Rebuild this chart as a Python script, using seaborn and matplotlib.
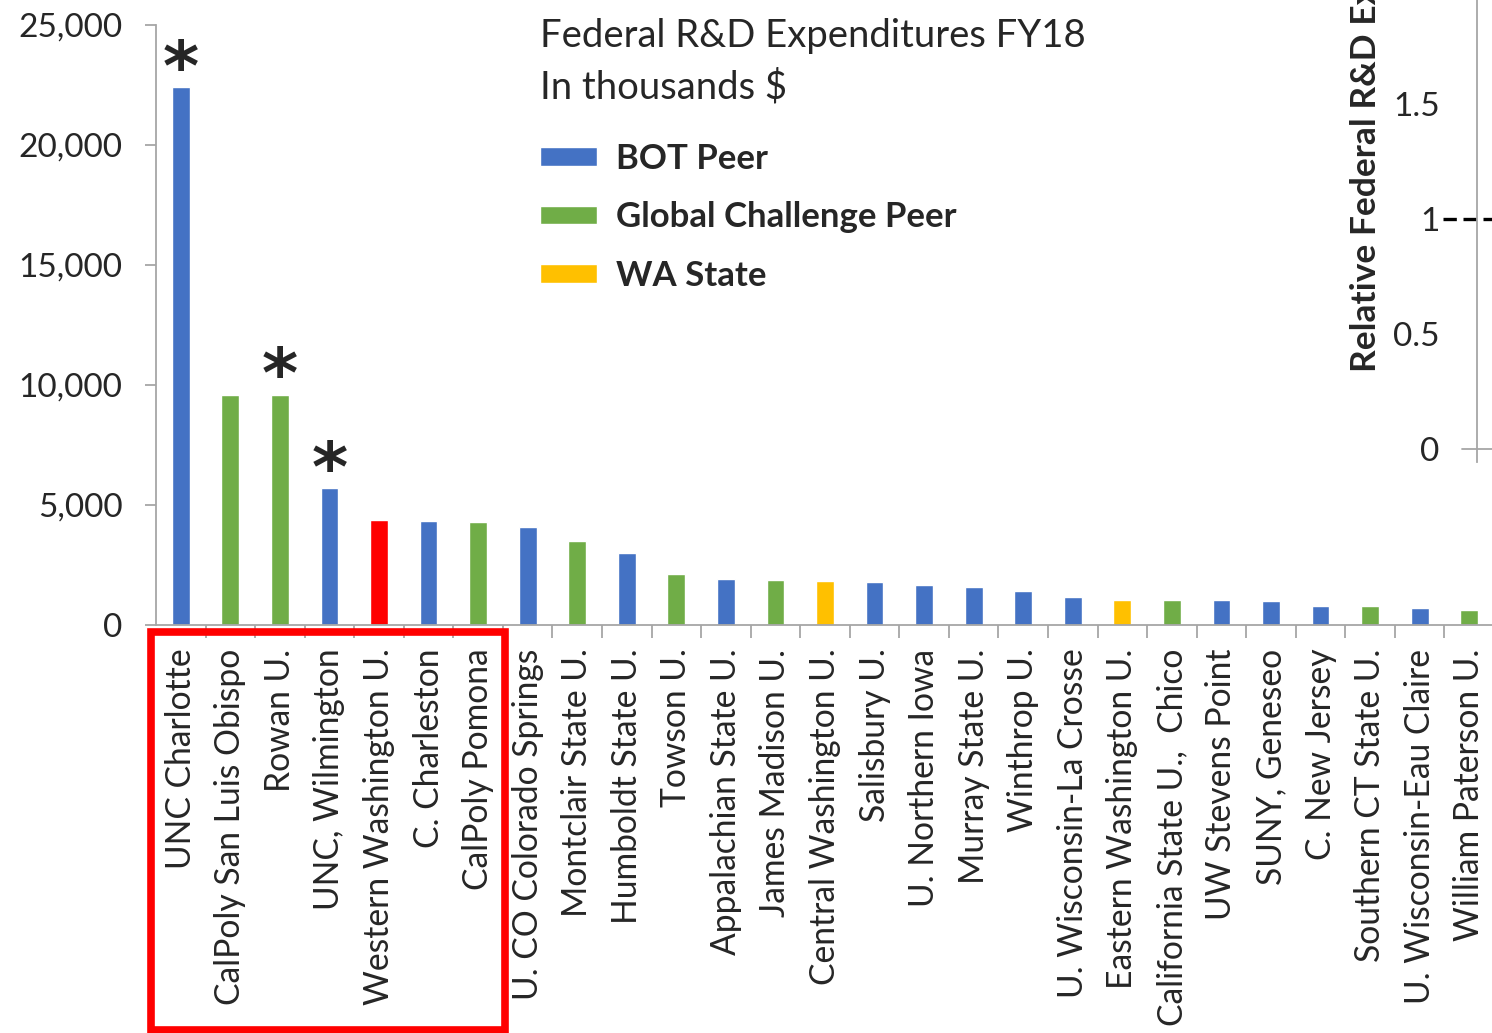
import matplotlib
matplotlib.use("Agg")
import matplotlib.pyplot as plt
from matplotlib.patches import Patch, Rectangle
from matplotlib.ticker import FuncFormatter, MultipleLocator
import numpy as np
import pandas as pd
import seaborn as sns

schools = ["UNC Charlotte", "CalPoly San Luis Obispo", "Rowan U.", "UNC, Wilmington",
           "Western Washington U.", "C. Charleston", "CalPoly Pomona", "U. CO Colorado Springs",
           "Montclair State U.", "Humboldt State U.", "Towson U.", "Appalachian State U.",
           "James Madison U.", "Central Washington U.", "Salisbury U.", "U. Northern Iowa",
           "Murray State U.", "Winthrop U.", "U. Wisconsin-La Crosse", "Eastern Washington U.",
           "California State U.,  Chico", "UW Stevens Point", "SUNY, Geneseo", "C. New Jersey",
           "Southern CT State U.", "U. Wisconsin-Eau Claire", "William Paterson U."]
expend = [22400, 9600, 9600, 5700, 4380, 4330, 4290, 4080, 3500, 3000, 2130, 1920,
          1880, 1830, 1790, 1670, 1580, 1420, 1170, 1040, 1040, 1030, 1000, 790,
          790, 710, 620]
group = ["BOT", "GC", "GC", "BOT", "WWU", "BOT", "GC", "BOT", "GC", "BOT", "GC", "BOT",
         "GC", "WA", "BOT", "BOT", "BOT", "BOT", "BOT", "WA", "GC", "BOT", "BOT", "BOT",
         "GC", "BOT", "GC"]
starred = ["UNC Charlotte", "Rowan U.", "UNC, Wilmington"]

colors = {"BOT": "#4472C4", "GC": "#70AD47", "WA": "#FFC000", "WWU": "#FF0000"}
legend_labels = [("BOT", "BOT Peer"), ("GC", "Global Challenge Peer"), ("WA", "WA State")]

df = pd.DataFrame({"school": schools, "expend": expend, "group": group})

sns.set_style("white")
plt.rcParams["font.family"] = ["Lato", "DejaVu Sans"]
grey = "#A6A6A6"

W, H = 1492, 1033
fig = plt.figure(figsize=(W / 100, H / 100), dpi=100)
ax = fig.add_axes([156 / W, 1 - 625 / H, 1338 / W, 600 / H])

sns.barplot(data=df, x="school", y="expend", hue="school",
            palette=[colors[g] for g in group], width=0.36, legend=False,
            saturation=1, ax=ax)

ax.set_ylim(0, 25000)
ax.set_xlim(-0.5, len(schools) - 0.5)
ax.yaxis.set_major_locator(MultipleLocator(5000))
ax.yaxis.set_major_formatter(FuncFormatter(lambda v, p: f"{v:,.0f}"))
ax.set_xlabel("")
ax.set_ylabel("")
for s in ["top", "right"]:
    ax.spines[s].set_visible(False)
for s in ["left", "bottom"]:
    ax.spines[s].set_color(grey)
    ax.spines[s].set_linewidth(1.3)
ax.tick_params(axis="y", which="major", length=8, color=grey, width=1.3,
               labelsize=24, pad=16, left=True)
ax.tick_params(axis="x", which="major", length=0, labelsize=24.2, rotation=90, pad=17)
ax.set_xticks(np.arange(len(schools)) + 0.5, minor=True)
ax.tick_params(axis="x", which="minor", length=9, color=grey, width=1.3, bottom=True)

for name in starred:
    i = schools.index(name)
    ax.annotate("*", (i, expend[i]), xytext=(0, -2), textcoords="offset points",
                ha="center", va="baseline", fontsize=50, fontweight="bold",
                family="DejaVu Sans")

# title and legend
fig.text(540 / W, 1 - 36 / H, "Federal R&D Expenditures FY18", fontsize=27.5,
         va="center", ha="left")
fig.text(540 / W, 1 - 87 / H, "In thousands $", fontsize=27.5, va="center", ha="left")
handles = [Patch(facecolor=colors[k], label=lab) for k, lab in legend_labels]
leg = fig.legend(handles=handles, loc="upper left", bbox_to_anchor=(540 / W, 1 - 143 / H),
                 frameon=False, prop={"size": 25, "weight": "bold"},
                 borderpad=0, borderaxespad=0,
                 handlelength=1.65, handleheight=0.45, labelspacing=0.76, handletextpad=0.55)

# highlight box around the home group
fig.patches.append(Rectangle((151 / W, 3 / H), 354 / W, (1033 - 635) / H,
                             transform=fig.transFigure, fill=False,
                             edgecolor="#FF0000", linewidth=5.5))

# cropped neighbouring chart on the right
ax2 = fig.add_axes([1477 / W, 1 - 462 / H, 150 / W, 462 / H])
ax2.set_ylim(-13 / 230, 449 / 230)
ax2.set_xlim(0, 1)
ax2.set_yticks([0, 0.5, 1, 1.5])
ax2.set_yticklabels(["0", "0.5", "1", "1.5"])
ax2.set_xticks([])
for s in ["top", "right", "bottom"]:
    ax2.spines[s].set_visible(False)
ax2.spines["left"].set_color(grey)
ax2.spines["left"].set_linewidth(1.3)
ax2.tick_params(axis="y", length=11, color=grey, width=1.3, labelsize=24, pad=16)
ax2.plot([-0.1, 1], [0, 0], color=grey, lw=1.3, clip_on=False)
ax2.plot([-0.23, 1], [1, 1], color="black", lw=2.4, ls=(0, (4, 2)), clip_on=False)
fig.text(1366 / W, 1 - 372 / H, "Relative Federal R&D Expenditures", rotation=90,
         ha="center", va="bottom", fontsize=25.5, fontweight="bold")

fig.savefig("out.png", dpi=100)
